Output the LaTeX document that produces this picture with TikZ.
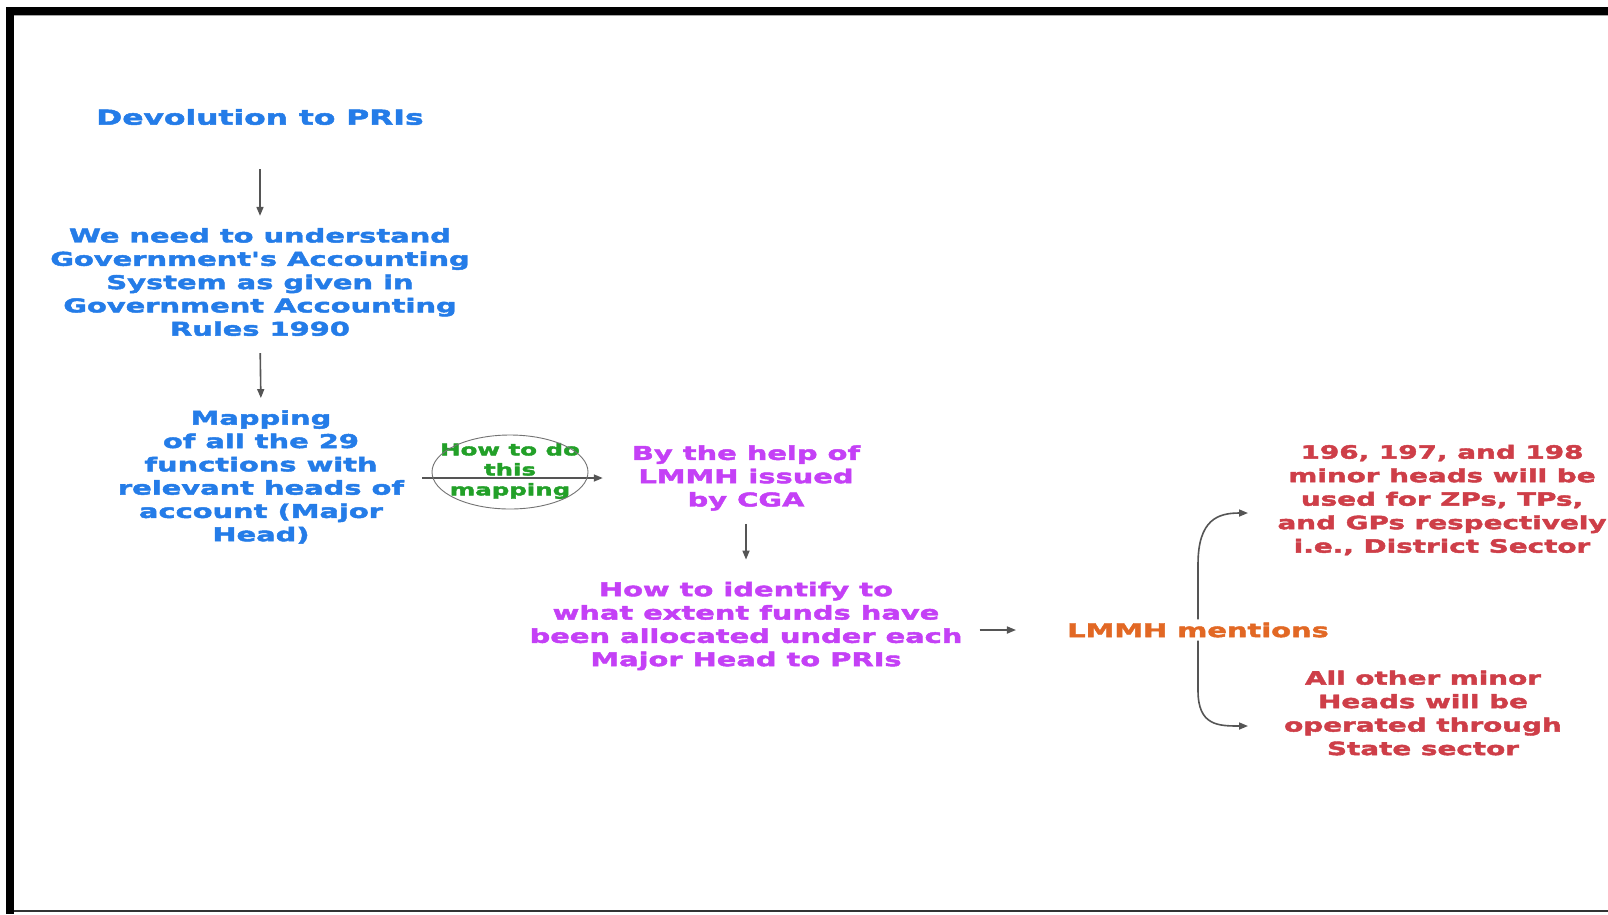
\documentclass[tikz,border=0pt]{standalone}
\usepackage{fontspec}
\newfontfamily\wb[FakeStretch=1.52,FakeBold=2.4]{DejaVu Sans}
\usetikzlibrary{arrows.meta,shapes.geometric}
\definecolor{cblue}{RGB}{36,124,232}
\definecolor{cmag}{RGB}{196,64,246}
\definecolor{cgreen}{RGB}{34,160,40}
\definecolor{corange}{RGB}{226,104,36}
\definecolor{cred}{RGB}{206,62,72}
\definecolor{arrgray}{RGB}{85,85,85}
\tikzset{
  txt/.style={align=center, inner sep=3pt, font=\wb\bfseries\fontsize{19}{23.3}\selectfont},
  title/.style={txt, font=\wb\bfseries\fontsize{20.6}{23.3}\selectfont, text=cblue},
  bluetxt/.style={txt, text=cblue},
  magtxt/.style={txt, text=cmag},
  redtxt/.style={txt, text=cred, font=\wb\bfseries\fontsize{18.3}{23.5}\selectfont},
  orangetxt/.style={txt, text=corange},
  howtxt/.style={inner sep=0pt, align=center, text=cgreen, font=\wb\bfseries\fontsize{16.1}{20}\selectfont},
  bubble/.style={draw=black!55, line width=0.9pt},
  arr/.style={draw=arrgray, line width=1.6pt, -{Triangle[length=9pt,width=7pt]}}
}
\begin{document}
\begin{tikzpicture}[x=1pt,y=-1pt]
\useasboundingbox (0,0) rectangle (1608,914);
\fill[white] (0,0) rectangle (1608,914);
% frame
\fill[black] (6,7) rectangle (1608,15);
\fill[black!35] (14,15) rectangle (1608,16);
\fill[black] (6,7) rectangle (14,914);
\fill[black!80] (14,910) rectangle (1608,912);

% left column
\node[title] (dev) at (260,117) {Devolution to PRIs};
\node[bluetxt] (gov) at (260,282) {We need to understand\\Government's Accounting\\System as given in\\Government Accounting\\Rules 1990};
\node[bluetxt] (map) at (261,477) {Mapping\\of all the 29\\functions with\\relevant heads of\\account (Major\\Head)};

% middle
\node[magtxt] (help) at (746,478) {By the help of\\LMMH issued\\by CGA};
\node[magtxt] (ident) at (746,626) {How to identify to\\what extent funds have\\been allocated under each\\Major Head to PRIs};

% right
\node[orangetxt] (lm) at (1198,630) {LMMH mentions};
\node[redtxt] (r1) at (1442,500) {196, 197, and 198\\minor heads will be\\used for ZPs, TPs,\\and GPs respectively\\i.e., District Sector};
\node[redtxt] (r2) at (1423,713) {All other minor\\Heads will be\\operated through\\State sector};
\coordinate (t1) at (1248,513);
\coordinate (t2) at (1248,726);

% arrows
\draw[arr, shorten <=41pt, shorten >=9pt] (dev.south) -- (gov.north);
\draw[arr, shorten <=14pt, shorten >=9pt] (gov.south) -- (map.north);
\draw[arr, shorten <=15pt, shorten >=26pt] ([yshift=-1pt]map.east) -- ([yshift=-1pt]map.east -| help.west);
\node[howtxt] (how) at (510,471) {How to do\\this\\mapping};
\draw[bubble] (510,472) ellipse (78 and 37);
\draw[arr, shorten <=10pt, shorten >=19pt] (help.south) -- (ident.north);
\draw[arr, shorten <=14pt, shorten >=48pt] (ident.east |- lm.west) -- (lm.west);
\draw[arr] (lm.north) -- ++(0,-55) .. controls +(0,-45) and +(-30,0) .. (t1);
\draw[arr] (lm.south) -- ++(0,50) .. controls +(0,35) and +(-30,0) .. (t2);
\end{tikzpicture}
\end{document}
